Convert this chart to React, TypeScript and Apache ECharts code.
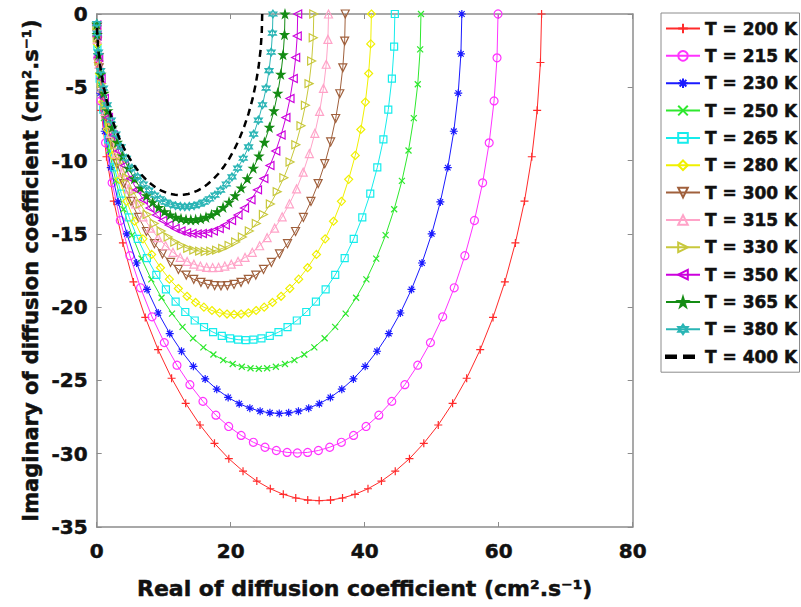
import React, { useEffect, useRef } from 'react';
import * as echarts from 'echarts';

// Series labels (temperature of each Cole-Cole curve)
const temperatures = [
  'T = 200 K', 'T = 215 K', 'T = 230 K', 'T = 250 K', 'T = 265 K', 'T = 280 K',
  'T = 300 K', 'T = 315 K', 'T = 330 K', 'T = 350 K', 'T = 365 K', 'T = 380 K', 'T = 400 K',
];

// [real, imaginary] of the diffusion coefficient (cm^2.s^-1)
const t200: [number, number][] = [[66.4,0],[66.23,-3.31],[65.74,-6.57],[64.94,-9.74],[63.85,-12.77],[62.49,-15.62],[60.92,-18.28],[59.15,-20.7],[57.24,-22.9],[55.22,-24.85],[53.12,-26.56],[50.98,-28.04],[48.82,-29.29],[46.68,-30.34],[44.56,-31.19],[42.5,-31.87],[40.49,-32.39],[38.55,-32.77],[36.69,-33.02],[34.9,-33.16],[33.2,-33.2],[31.5,-33.16],[29.71,-33.02],[27.85,-32.77],[25.91,-32.39],[23.9,-31.87],[21.84,-31.19],[19.72,-30.34],[17.58,-29.29],[15.42,-28.04],[13.28,-26.56],[11.18,-24.85],[9.16,-22.9],[7.25,-20.7],[5.48,-18.28],[3.91,-15.62],[2.55,-12.77],[1.46,-9.74],[0.66,-6.57],[0.17,-3.31],[0.04,-1.66]];
const t215: [number, number][] = [[59.9,0],[59.75,-2.99],[59.31,-5.93],[58.58,-8.79],[57.6,-11.52],[56.38,-14.09],[54.95,-16.49],[53.36,-18.68],[51.64,-20.66],[49.81,-22.42],[47.92,-23.96],[45.99,-25.29],[44.04,-26.43],[42.11,-27.37],[40.2,-28.14],[38.34,-28.75],[36.52,-29.22],[34.78,-29.56],[33.09,-29.78],[31.48,-29.91],[29.95,-29.95],[28.42,-29.91],[26.81,-29.78],[25.12,-29.56],[23.38,-29.22],[21.56,-28.75],[19.7,-28.14],[17.79,-27.37],[15.86,-26.43],[13.91,-25.29],[11.98,-23.96],[10.09,-22.42],[8.26,-20.66],[6.54,-18.68],[4.95,-16.49],[3.52,-14.09],[2.3,-11.52],[1.32,-8.79],[0.59,-5.93],[0.15,-2.99],[0.04,-1.5]];
const t230: [number, number][] = [[54.5,0],[54.36,-2.72],[53.96,-5.4],[53.3,-8],[52.4,-10.48],[51.29,-12.82],[50,-15],[48.55,-16.99],[46.98,-18.79],[45.32,-20.4],[43.6,-21.8],[41.84,-23.01],[40.07,-24.04],[38.31,-24.9],[36.58,-25.6],[34.88,-26.16],[33.23,-26.59],[31.64,-26.89],[30.11,-27.1],[28.65,-27.21],[27.25,-27.25],[25.85,-27.21],[24.39,-27.1],[22.86,-26.89],[21.27,-26.59],[19.62,-26.16],[17.92,-25.6],[16.19,-24.9],[14.43,-24.04],[12.66,-23.01],[10.9,-21.8],[9.18,-20.4],[7.52,-18.79],[5.95,-16.99],[4.5,-15],[3.21,-12.82],[2.1,-10.48],[1.2,-8],[0.54,-5.4],[0.14,-2.72],[0.03,-1.36]];
const t250: [number, number][] = [[48.4,0],[48.28,-2.41],[47.92,-4.79],[47.33,-7.1],[46.54,-9.31],[45.55,-11.39],[44.4,-13.32],[43.12,-15.09],[41.72,-16.69],[40.25,-18.11],[38.72,-19.36],[37.16,-20.44],[35.59,-21.35],[34.02,-22.12],[32.48,-22.74],[30.98,-23.23],[29.51,-23.61],[28.1,-23.88],[26.74,-24.07],[25.44,-24.17],[24.2,-24.2],[22.96,-24.17],[21.66,-24.07],[20.3,-23.88],[18.89,-23.61],[17.42,-23.23],[15.92,-22.74],[14.38,-22.12],[12.81,-21.35],[11.24,-20.44],[9.68,-19.36],[8.15,-18.11],[6.68,-16.69],[5.28,-15.09],[4,-13.32],[2.85,-11.39],[1.86,-9.31],[1.07,-7.1],[0.48,-4.79],[0.12,-2.41],[0.03,-1.21]];
const t265: [number, number][] = [[44.5,0],[44.39,-2.22],[44.06,-4.41],[43.52,-6.53],[42.79,-8.56],[41.88,-10.47],[40.83,-12.25],[39.64,-13.88],[38.36,-15.34],[37.01,-16.65],[35.6,-17.8],[34.17,-18.79],[32.72,-19.63],[31.28,-20.33],[29.87,-20.91],[28.48,-21.36],[27.13,-21.71],[25.83,-21.96],[24.59,-22.13],[23.39,-22.22],[22.25,-22.25],[21.11,-22.22],[19.91,-22.13],[18.67,-21.96],[17.37,-21.71],[16.02,-21.36],[14.63,-20.91],[13.22,-20.33],[11.78,-19.63],[10.33,-18.79],[8.9,-17.8],[7.49,-16.65],[6.14,-15.34],[4.86,-13.88],[3.67,-12.25],[2.62,-10.47],[1.71,-8.56],[0.98,-6.53],[0.44,-4.41],[0.11,-2.22],[0.03,-1.11]];
const t280: [number, number][] = [[41,0],[40.9,-2.04],[40.59,-4.06],[40.1,-6.01],[39.42,-7.88],[38.59,-9.65],[37.61,-11.28],[36.53,-12.78],[35.34,-14.14],[34.1,-15.34],[32.8,-16.4],[31.48,-17.31],[30.15,-18.09],[28.82,-18.73],[27.52,-19.26],[26.24,-19.68],[25,-20],[23.8,-20.23],[22.65,-20.39],[21.55,-20.47],[20.5,-20.5],[19.45,-20.47],[18.35,-20.39],[17.2,-20.23],[16,-20],[14.76,-19.68],[13.48,-19.26],[12.18,-18.73],[10.85,-18.09],[9.52,-17.31],[8.2,-16.4],[6.9,-15.34],[5.66,-14.14],[4.47,-12.78],[3.39,-11.28],[2.41,-9.65],[1.58,-7.88],[0.9,-6.01],[0.41,-4.06],[0.1,-2.04],[0.03,-1.02]];
const t300: [number, number][] = [[37.1,0],[37.01,-1.85],[36.73,-3.67],[36.28,-5.44],[35.67,-7.13],[34.92,-8.73],[34.04,-10.21],[33.05,-11.57],[31.98,-12.79],[30.85,-13.88],[29.68,-14.84],[28.48,-15.67],[27.28,-16.37],[26.08,-16.95],[24.9,-17.43],[23.74,-17.81],[22.62,-18.1],[21.54,-18.31],[20.5,-18.45],[19.5,-18.53],[18.55,-18.55],[17.6,-18.53],[16.6,-18.45],[15.56,-18.31],[14.48,-18.1],[13.36,-17.81],[12.2,-17.43],[11.02,-16.95],[9.82,-16.37],[8.62,-15.67],[7.42,-14.84],[6.25,-13.88],[5.12,-12.79],[4.05,-11.57],[3.06,-10.21],[2.18,-8.73],[1.43,-7.13],[0.82,-5.44],[0.37,-3.67],[0.09,-1.85],[0.02,-0.93]];
const t315: [number, number][] = [[34.6,0],[34.51,-1.73],[34.26,-3.43],[33.84,-5.08],[33.27,-6.65],[32.56,-8.14],[31.74,-9.52],[30.82,-10.79],[29.83,-11.93],[28.77,-12.95],[27.68,-13.84],[26.56,-14.61],[25.44,-15.26],[24.32,-15.81],[23.22,-16.26],[22.14,-16.61],[21.1,-16.88],[20.09,-17.07],[19.12,-17.2],[18.19,-17.28],[17.3,-17.3],[16.41,-17.28],[15.48,-17.2],[14.51,-17.07],[13.5,-16.88],[12.46,-16.61],[11.38,-16.26],[10.28,-15.81],[9.16,-15.26],[8.04,-14.61],[6.92,-13.84],[5.83,-12.95],[4.77,-11.93],[3.78,-10.79],[2.86,-9.52],[2.04,-8.14],[1.33,-6.65],[0.76,-5.08],[0.34,-3.43],[0.09,-1.73],[0.02,-0.87]];
const t330: [number, number][] = [[32.4,0],[32.32,-1.62],[32.08,-3.21],[31.69,-4.75],[31.15,-6.23],[30.49,-7.62],[29.72,-8.92],[28.86,-10.1],[27.93,-11.17],[26.94,-12.12],[25.92,-12.96],[24.88,-13.68],[23.82,-14.29],[22.78,-14.8],[21.74,-15.22],[20.74,-15.55],[19.76,-15.8],[18.81,-15.99],[17.9,-16.11],[17.03,-16.18],[16.2,-16.2],[15.37,-16.18],[14.5,-16.11],[13.59,-15.99],[12.64,-15.8],[11.66,-15.55],[10.66,-15.22],[9.62,-14.8],[8.58,-14.29],[7.52,-13.68],[6.48,-12.96],[5.46,-12.12],[4.47,-11.17],[3.54,-10.1],[2.68,-8.92],[1.91,-7.62],[1.25,-6.23],[0.71,-4.75],[0.32,-3.21],[0.08,-1.62],[0.02,-0.81]];
const t350: [number, number][] = [[30,0],[29.93,-1.5],[29.7,-2.97],[29.34,-4.4],[28.85,-5.77],[28.24,-7.06],[27.52,-8.26],[26.73,-9.35],[25.86,-10.34],[24.95,-11.23],[24,-12],[23.03,-12.67],[22.06,-13.24],[21.09,-13.71],[20.13,-14.09],[19.2,-14.4],[18.29,-14.63],[17.42,-14.8],[16.57,-14.92],[15.77,-14.98],[15,-15],[14.23,-14.98],[13.43,-14.92],[12.58,-14.8],[11.71,-14.63],[10.8,-14.4],[9.87,-14.09],[8.91,-13.71],[7.94,-13.24],[6.97,-12.67],[6,-12],[5.05,-11.23],[4.14,-10.34],[3.27,-9.35],[2.48,-8.26],[1.76,-7.06],[1.15,-5.77],[0.66,-4.4],[0.3,-2.97],[0.07,-1.5],[0.02,-0.75]];
const t365: [number, number][] = [[28.1,0],[28.03,-1.4],[27.82,-2.78],[27.48,-4.12],[27.02,-5.4],[26.45,-6.61],[25.78,-7.73],[25.03,-8.76],[24.22,-9.69],[23.37,-10.52],[22.48,-11.24],[21.57,-11.87],[20.66,-12.4],[19.75,-12.84],[18.86,-13.2],[17.98,-13.49],[17.13,-13.71],[16.31,-13.87],[15.52,-13.97],[14.77,-14.03],[14.05,-14.05],[13.33,-14.03],[12.58,-13.97],[11.79,-13.87],[10.97,-13.71],[10.12,-13.49],[9.24,-13.2],[8.35,-12.84],[7.44,-12.4],[6.53,-11.87],[5.62,-11.24],[4.73,-10.52],[3.88,-9.69],[3.07,-8.76],[2.32,-7.73],[1.65,-6.61],[1.08,-5.4],[0.62,-4.12],[0.28,-2.78],[0.07,-1.4],[0.02,-0.7]];
const t380: [number, number][] = [[26.3,0],[26.23,-1.31],[26.04,-2.6],[25.72,-3.86],[25.29,-5.06],[24.75,-6.19],[24.13,-7.24],[23.43,-8.2],[22.67,-9.07],[21.87,-9.84],[21.04,-10.52],[20.19,-11.11],[19.34,-11.6],[18.49,-12.02],[17.65,-12.36],[16.83,-12.62],[16.04,-12.83],[15.27,-12.98],[14.53,-13.08],[13.82,-13.13],[13.15,-13.15],[12.48,-13.13],[11.77,-13.08],[11.03,-12.98],[10.26,-12.83],[9.47,-12.62],[8.65,-12.36],[7.81,-12.02],[6.96,-11.6],[6.11,-11.11],[5.26,-10.52],[4.43,-9.84],[3.63,-9.07],[2.87,-8.2],[2.17,-7.24],[1.55,-6.19],[1.01,-5.06],[0.58,-3.86],[0.26,-2.6],[0.07,-1.31],[0.02,-0.66]];
const t400: [number, number][] = [[24.7,0],[24.64,-1.23],[24.46,-2.45],[24.16,-3.62],[23.75,-4.75],[23.25,-5.81],[22.66,-6.8],[22,-7.7],[21.29,-8.52],[20.54,-9.24],[19.76,-9.88],[18.96,-10.43],[18.16,-10.9],[17.36,-11.29],[16.58,-11.6],[15.81,-11.86],[15.06,-12.05],[14.34,-12.19],[13.65,-12.28],[12.98,-12.33],[12.35,-12.35],[11.72,-12.33],[11.05,-12.28],[10.36,-12.19],[9.64,-12.05],[8.89,-11.86],[8.12,-11.6],[7.34,-11.29],[6.54,-10.9],[5.74,-10.43],[4.94,-9.88],[4.16,-9.24],[3.41,-8.52],[2.7,-7.7],[2.04,-6.8],[1.45,-5.81],[0.95,-4.75],[0.54,-3.62],[0.24,-2.45],[0.06,-1.23],[0.02,-0.62]];

const curves = [t200, t215, t230, t250, t265, t280, t300, t315, t330, t350, t365, t380, t400];

// Axis ticks
const xTicks = { min: 0, max: 80, step: 20 };
const yTicks = { min: -35, max: 0, step: 5 };

const xTitle = 'Real of diffusion coefficient (cm\u00B2.s\u207B\u00B9)';
const yTitle = 'Imaginary of diffusion coefficient (cm\u00B2.s\u207B\u00B9)';

// Marker shapes (MATLAB-like)
const PLUS = 'path://M5,0L5,10M0,5L10,5';
const CROSS = 'path://M0,0L10,10M10,0L0,10';
const ASTERISK = 'path://M5,0L5,10M0,5L10,5M1.5,1.5L8.5,8.5M8.5,1.5L1.5,8.5';
const PENTAGRAM = 'path://M50,0L61,35L98,35L68,57L79,91L50,70L21,91L32,57L2,35L39,35Z';
const HEXAGRAM = 'path://M50,0L93,75L7,75ZM50,100L7,25L93,25Z';
// Legend icon for the dashed curve: two short dashes in a 34x12 box
const DASH_ICON = 'path://M0,0L0,0ZM0,4.7L10,4.7L10,7.3L0,7.3ZM18,4.7L28,4.7L28,7.3L18,7.3ZM34,12L34,12Z';

type CurveStyle = { color: string; symbol: string; size: number; rotate?: number; filled?: boolean; dashed?: boolean };

const curveStyles: CurveStyle[] = [
  { color: '#ff2a2a', symbol: PLUS, size: 8 },
  { color: '#ff33ff', symbol: 'circle', size: 8 },
  { color: '#1a1aff', symbol: ASTERISK, size: 8 },
  { color: '#2ee82e', symbol: CROSS, size: 6 },
  { color: '#16ecec', symbol: 'rect', size: 7 },
  { color: '#f0f000', symbol: 'diamond', size: 8 },
  { color: '#a0603c', symbol: 'triangle', size: 8, rotate: 180 },
  { color: '#ffa3c8', symbol: 'triangle', size: 8 },
  { color: '#c8c83c', symbol: 'triangle', size: 8, rotate: -90 },
  { color: '#cc00dd', symbol: 'triangle', size: 8, rotate: 90 },
  { color: '#148c14', symbol: PENTAGRAM, size: 8, filled: true },
  { color: '#2ab5b5', symbol: HEXAGRAM, size: 8 },
  { color: '#000000', symbol: 'none', size: 0, dashed: true },
];

const FONT = 'DejaVu Sans';
const FRAME = '#8c8c8c';
const INK = '#111111';

export default function App() {
  const ref = useRef<HTMLDivElement>(null);

  useEffect(() => {
    if (!ref.current) return;
    const chart = echarts.init(ref.current, undefined, { renderer: 'svg' });

    const series = curves.map((data, i) => {
      const s = curveStyles[i];
      return {
        type: 'line',
        name: temperatures[i],
        data,
        xAxisIndex: 0,
        yAxisIndex: 0,
        symbol: s.symbol,
        symbolSize: s.size,
        symbolRotate: s.rotate ?? 0,
        showSymbol: s.symbol !== 'none',
        lineStyle: s.dashed
          ? { color: s.color, width: 2.5, type: [7, 5] }
          : { color: s.color, width: 1 },
        itemStyle: {
          color: s.filled || s.dashed ? s.color : 'rgba(255,255,255,0)',
          borderColor: s.color,
          borderWidth: 1.2,
        },
        emphasis: { disabled: true },
        z: 2 + i,
      };
    });

    const legendData = temperatures.map((name, i) =>
      curveStyles[i].dashed ? { name, icon: DASH_ICON, itemStyle: { color: '#000000' } } : name,
    );

    const heavy = { textBorderColor: INK, textBorderWidth: 0.5 };
    const axisLabel = { fontFamily: FONT, fontWeight: 'bold', fontSize: 20, color: INK, ...heavy };

    chart.setOption({
      animation: false,
      backgroundColor: '#ffffff',
      grid: { left: 96.7, right: 168.3, top: 14, bottom: 80 },
      xAxis: [
        {
          type: 'value', min: xTicks.min, max: xTicks.max, interval: xTicks.step, position: 'bottom',
          axisLine: { show: true, onZero: false, lineStyle: { color: FRAME, width: 1.5 } },
          axisTick: { show: true, inside: true, length: 5, lineStyle: { color: FRAME } },
          axisLabel: { ...axisLabel, margin: 14 },
          splitLine: { show: false },
        },
        {
          type: 'value', min: xTicks.min, max: xTicks.max, interval: xTicks.step, position: 'top',
          axisLine: { show: true, onZero: false, lineStyle: { color: FRAME, width: 1.5 } },
          axisTick: { show: true, inside: true, length: 5, lineStyle: { color: FRAME } },
          axisLabel: { show: false },
          splitLine: { show: false },
        },
      ],
      yAxis: [
        {
          type: 'value', min: yTicks.min, max: yTicks.max, interval: yTicks.step, position: 'left',
          axisLine: { show: true, onZero: false, lineStyle: { color: FRAME, width: 1.5 } },
          axisTick: { show: true, inside: true, length: 5, lineStyle: { color: FRAME } },
          axisLabel: { ...axisLabel, margin: 9 },
          splitLine: { show: false },
        },
        {
          type: 'value', min: yTicks.min, max: yTicks.max, interval: yTicks.step, position: 'right',
          axisLine: { show: true, onZero: false, lineStyle: { color: FRAME, width: 1.5 } },
          axisTick: { show: true, inside: true, length: 5, lineStyle: { color: FRAME } },
          axisLabel: { show: false },
          splitLine: { show: false },
        },
      ],
      legend: {
        data: legendData,
        orient: 'vertical',
        left: 661,
        top: 13,
        padding: [6.5, 2, 6.5, 4],
        itemWidth: 34,
        itemHeight: 12,
        itemGap: 9.35,
        borderColor: FRAME,
        borderWidth: 1,
        backgroundColor: '#ffffff',
        textStyle: { fontFamily: FONT, fontWeight: 'bold', fontSize: 17, lineHeight: 18, color: INK, ...heavy },
        selectedMode: false,
      },
      graphic: [
        {
          type: 'text', x: 364.7, y: 588,
          style: {
            text: xTitle, fill: INK, fontFamily: FONT, fontWeight: 'bold', fontSize: 22,
            stroke: INK, lineWidth: 0.5,
            align: 'center', verticalAlign: 'middle', textAlign: 'center', textVerticalAlign: 'middle',
          },
        },
        {
          type: 'text', x: 31, y: 270.5, rotation: Math.PI / 2,
          style: {
            text: yTitle, fill: INK, fontFamily: FONT, fontWeight: 'bold', fontSize: 21,
            stroke: INK, lineWidth: 0.5,
            align: 'center', verticalAlign: 'middle', textAlign: 'center', textVerticalAlign: 'middle',
          },
        },
      ],
      series,
    });

    return () => chart.dispose();
  }, []);

  return (
    <div
      ref={ref}
      style={{ position: 'fixed', left: 0, top: 0, width: 801, height: 607, background: '#fff' }}
    />
  );
}
